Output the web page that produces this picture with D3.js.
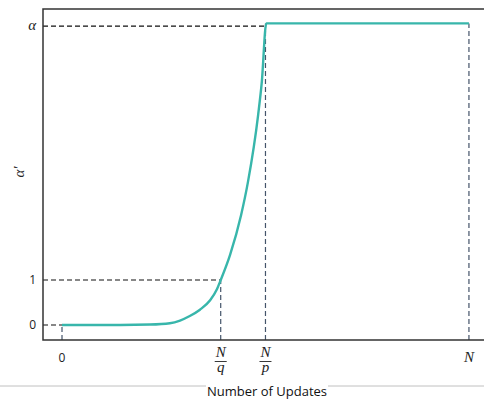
<!DOCTYPE html>
<html>
<head>
<meta charset="utf-8">
<script src="https://d3js.org/d3.v7.min.js"></script>
<style>
  body { margin: 0; background: #fff; }
  .tick { font-family: "Open Sans", sans-serif; font-size: 12px; fill: #222; }
  .math { font-family: "Liberation Serif", "DejaVu Serif", serif; font-style: italic; font-size: 15px; fill: #222; }
</style>
</head>
<body>
<script>
// curve of alpha' against the number of updates (N = 100 units)
let updates = [0, 14.3, 21.6, 26.5, 29.0, 31.4, 33.9, 36.4, 38.1, 39, 41.3, 44, 45.7, 48.2, 49.1, 50.2, 100]
let alphaPrime = [0, 0, 0.01, 0.04, 0.1, 0.2, 0.34, 0.55, 0.8, 1, 1.56, 2.44, 3.18, 4.67, 5.4, 6.7, 6.7]

// tick positions and labels
let xTickValues = [0, 39, 50, 100]
let xTickLabels = [["0"], ["N", "q"], ["N", "p"], ["N"]]
let yTickValues = [0, 1, 6.64]
let yTickLabels = ["0", "1", "α"]

let width = 484
let height = 399
let plotLeft = 43, plotTop = 9, plotBottom = 340

let teal = "#38b6ab"
let slate = "#44546a"

let x = d3.scaleLinear().domain([-4.67, 103.7]).range([plotLeft, 484])
let y = d3.scaleLinear().domain([-0.333, 7.02]).range([plotBottom, plotTop])

let svg = d3.select("body").append("svg")
    .attr("width", width)
    .attr("height", height)

// horizontal guide lines from the axis to the curve
let hGuides = [{v: 0, to: 0}, {v: 1, to: 39}, {v: 6.64, to: 50}]
svg.selectAll("line.hguide")
    .data(hGuides)
    .enter()
    .append("line")
    .attr("x1", plotLeft)
    .attr("x2", function(d){ return x(d.to) })
    .attr("y1", function(d){ return y(d.v) })
    .attr("y2", function(d){ return y(d.v) })
    .attr("stroke", "#111")
    .attr("stroke-width", 1.2)
    .style("stroke-dasharray", "5, 3")

// vertical guide lines from the axis up to the curve
let vGuides = [{v: 0, to: 0}, {v: 39, to: 1}, {v: 50, to: 6.7}, {v: 100, to: 6.7}]
svg.selectAll("line.vguide")
    .data(vGuides)
    .enter()
    .append("line")
    .attr("x1", function(d){ return x(d.v) })
    .attr("x2", function(d){ return x(d.v) })
    .attr("y1", plotBottom)
    .attr("y2", function(d){ return y(d.to) })
    .attr("stroke", slate)
    .attr("stroke-width", 1.2)
    .style("stroke-dasharray", "5, 3")

// the curve
let points = updates.map(function(u, i){ return [u, alphaPrime[i]] })
let line = d3.line()
    .x(function(d){ return x(d[0]) })
    .y(function(d){ return y(d[1]) })
    .curve(d3.curveMonotoneX)

svg.append("path")
    .datum(points)
    .attr("d", line)
    .attr("fill", "none")
    .attr("stroke", teal)
    .attr("stroke-width", 2.4)

// frame: left, top and bottom (right side runs off the picture)
svg.append("path")
    .attr("d", "M" + 500 + "," + plotTop + "H" + plotLeft + "V" + plotBottom + "H" + 500)
    .attr("fill", "none")
    .attr("stroke", "#333")
    .attr("stroke-width", 1.5)

// y tick labels
svg.selectAll("text.ylab")
    .data(yTickValues)
    .enter()
    .append("text")
    .attr("class", function(d, i){ return i == 2 ? "math" : "tick" })
    .attr("x", 36)
    .attr("y", function(d){ return y(d) + 4 })
    .attr("text-anchor", "end")
    .text(function(d, i){ return yTickLabels[i] })

// x tick labels, fractions drawn as numerator / bar / denominator
xTickValues.forEach(function(v, i){
    let lab = xTickLabels[i]
    let cx = x(v)
    if(lab.length == 1){
        svg.append("text")
            .attr("class", lab[0] == "0" ? "tick" : "math")
            .attr("x", cx)
            .attr("y", 362)
            .attr("text-anchor", "middle")
            .text(lab[0])
    } else {
        svg.append("text").attr("class", "math")
            .attr("x", cx).attr("y", 357)
            .attr("text-anchor", "middle").text(lab[0])
        svg.append("line")
            .attr("x1", cx - 6).attr("x2", cx + 6)
            .attr("y1", 361.5).attr("y2", 361.5)
            .attr("stroke", "#222").attr("stroke-width", 0.9)
        svg.append("text").attr("class", "math")
            .attr("x", cx).attr("y", 372)
            .attr("text-anchor", "middle").text(lab[1])
    }
})

// y axis title
svg.append("text")
    .attr("class", "math")
    .attr("transform", "translate(24," + 172 + ") rotate(-90)")
    .attr("text-anchor", "middle")
    .text("α′")

// gray rule under the chart, with the x title sitting on it
svg.append("line")
    .attr("x1", 0).attr("x2", width)
    .attr("y1", 386).attr("y2", 386)
    .attr("stroke", "#c0c0c0")
    .attr("stroke-width", 1)

let title = svg.append("text")
    .attr("x", 267)
    .attr("y", 396)
    .attr("text-anchor", "middle")
    .style("font-family", "'Open Sans', sans-serif")
    .style("font-size", "13px")
    .style("fill", "#111")
    .text("Number of Updates")

let bb = title.node().getBBox()
svg.insert("rect", "text:last-of-type")
    .attr("x", bb.x - 1).attr("y", 387 - 3)
    .attr("width", bb.width + 2).attr("height", 6)
    .attr("fill", "#fff")
</script>
</body>
</html>
